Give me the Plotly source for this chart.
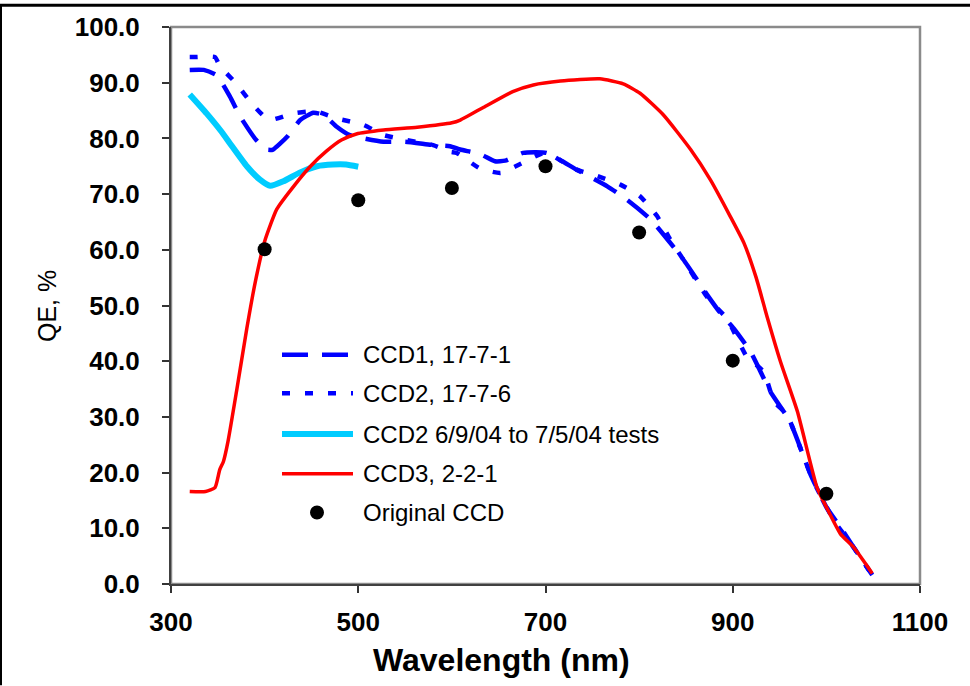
import plotly.graph_objects as go

# ---- data: quantum efficiency (%) versus wavelength (nm) ----
ccd1_wl = [320, 335, 349, 363, 374, 391, 402, 409, 424, 438, 452, 463, 477, 491, 527, 550, 580,
           598, 609, 630, 646, 657, 676, 701, 733, 766, 787, 812, 847, 874, 887, 901, 919, 940,
           961, 983, 1000, 1015, 1029, 1049]
ccd1_qe = [92.3, 92.3, 91.3, 87.5, 83.9, 79.7, 78.0, 78.0, 80.3, 83.3, 84.6, 84.2, 82.1, 80.6, 79.4,
           79.4, 78.8, 78.6, 78.0, 77.2, 75.9, 76.0, 77.4, 77.4, 74.4, 71.4, 69.0, 65.5, 58.3, 51.6,
           48.6, 45.9, 41.7, 34.6, 29.2, 19.7, 13.8, 10.2, 6.6, 1.6]

ccd2_wl = [320, 326, 347, 352, 370, 386, 402, 409, 431, 445, 456, 477, 506, 527, 552, 580, 598,
           605, 630, 652, 673, 698, 705, 733, 751, 780, 801, 819, 833, 847, 874, 894, 915, 933,
           944, 958, 972, 986, 1008, 1029, 1049]
ccd2_qe = [94.6, 94.6, 94.6, 93.0, 89.8, 86.3, 83.6, 83.4, 84.5, 84.8, 84.8, 83.6, 82.4, 80.6, 79.7,
           78.8, 77.6, 77.4, 74.6, 73.8, 75.4, 77.4, 77.1, 74.4, 73.5, 71.7, 69.6, 66.1, 61.9, 58.3,
           51.2, 47.6, 40.8, 38.1, 32.8, 30.4, 24.5, 18.5, 11.4, 6.6, 1.6]

tests_wl = [320, 338, 354, 363, 381, 395, 406, 420, 438, 456, 473, 487, 500]
tests_qe = [87.9, 84.5, 81.2, 79.1, 75.0, 72.6, 71.5, 72.3, 73.9, 75.0, 75.3, 75.3, 74.9]

ccd3_wl = [320, 337, 347, 352, 356, 361, 370, 381, 390, 400, 413, 431, 449, 466, 482, 498, 527,
           563, 600, 609, 634, 665, 687, 716, 758, 783, 801, 826, 855, 876, 897, 912, 925, 937,
           951, 969, 990, 1000, 1015, 1029, 1049]
ccd3_qe = [16.6, 16.6, 17.3, 20.5, 22.0, 25.7, 34.6, 45.9, 54.2, 61.5, 67.3, 71.4, 75.0, 77.7, 79.7,
           80.8, 81.5, 82.0, 82.8, 83.3, 85.6, 88.4, 89.6, 90.3, 90.7, 89.8, 88.1, 84.2, 78.0, 72.6,
           66.1, 61.2, 55.0, 47.8, 39.9, 31.0, 17.3, 13.8, 9.0, 6.6, 1.9]

orig_wl = [400, 500, 600, 700, 800, 900, 1000]
orig_qe = [60.1, 68.9, 71.1, 75.0, 63.1, 40.1, 16.2]

series_names = ["CCD1, 17-7-1", "CCD2, 17-7-6", "CCD2 6/9/04 to 7/5/04 tests",
                "CCD3, 2-2-1", "Original CCD"]
x_ticks = [300, 500, 700, 900, 1100]
y_ticks = [0, 10, 20, 30, 40, 50, 60, 70, 80, 90, 100]

# ---- page geometry ----
W, H = 970, 686
L, R, T, B = 171, 50, 23, 102
FONT = "Liberation Sans, Arial, sans-serif"


def px(x):
    return (x - L) / (W - L - R)


def py(y):
    return (H - B - y) / (H - T - B)


BLUE = "#0000FF"
CYAN = "#00CCFF"
RED = "#FF0000"

styles = [
    dict(color=BLUE, width=4.5, dash="26px,14px"),
    dict(color=BLUE, width=4.5, dash="8px,15px"),
    dict(color=CYAN, width=6),
    dict(color=RED, width=3.5),
]

fig = go.Figure()
for name, wl, qe, st in zip(series_names[:4],
                            [ccd1_wl, ccd2_wl, tests_wl, ccd3_wl],
                            [ccd1_qe, ccd2_qe, tests_qe, ccd3_qe], styles):
    fig.add_trace(go.Scatter(x=wl, y=qe, mode="lines", name=name, showlegend=False,
                             line=dict(shape="spline", smoothing=0.5, **st)))

fig.add_trace(go.Scatter(x=orig_wl, y=orig_qe, mode="markers", name=series_names[4],
                         showlegend=False, marker=dict(color="black", size=14)))

shapes = []
# plot frame: light grey top/right
shapes.append(dict(type="rect", xref="paper", yref="paper", x0=0, x1=1, y0=0, y1=1,
                   line=dict(color="#8a8a8a", width=2.5), layer="below"))
# outer black edge along top and left
shapes.append(dict(type="line", xref="paper", yref="paper", x0=px(0), x1=px(W),
                   y0=py(1), y1=py(1), line=dict(color="black", width=3)))
shapes.append(dict(type="line", xref="paper", yref="paper", x0=px(1), x1=px(1),
                   y0=py(0), y1=py(H), line=dict(color="black", width=2)))

# key
row_y = [353, 392, 433, 473, 512]
annotations = []
for i, st in enumerate(styles):
    shapes.append(dict(type="line", xref="paper", yref="paper",
                       x0=px(282), x1=px(353), y0=py(row_y[i]), y1=py(row_y[i]),
                       line=st))
shapes.append(dict(type="circle", xref="paper", yref="paper",
                   x0=px(310), x1=px(324), y0=py(row_y[4] - 7), y1=py(row_y[4] + 7),
                   fillcolor="black", line=dict(color="black", width=0)))
for i, name in enumerate(series_names):
    annotations.append(dict(text=name, xref="paper", yref="paper", x=px(361), y=py(row_y[i]),
                            xanchor="left", yanchor="middle", showarrow=False,
                            font=dict(family=FONT, size=24, color="black")))

# axis titles
annotations.append(dict(text="<b>Wavelength (nm)</b>", xref="paper", yref="paper",
                        x=px(501), y=py(661), xanchor="center", yanchor="middle",
                        showarrow=False, font=dict(family=FONT, size=32, color="black")))
annotations.append(dict(text="QE, %", xref="paper", yref="paper", textangle=-90,
                        x=px(47), y=py(304), xanchor="center", yanchor="middle",
                        showarrow=False, font=dict(family=FONT, size=25, color="black")))

fig.update_layout(
    width=W, height=H,
    margin=dict(l=L, r=R, t=T, b=B),
    paper_bgcolor="white", plot_bgcolor="white",
    showlegend=False,
    shapes=shapes, annotations=annotations,
    xaxis=dict(range=[300, 1100], tickvals=x_ticks, ticktext=[str(v) for v in x_ticks],
               showgrid=False, zeroline=False, showline=True, linecolor="#404040", linewidth=2,
               ticks="outside", ticklen=7, tickwidth=1.5, tickcolor="#333333",
               ticklabelstandoff=7,
               tickfont=dict(family=FONT, size=26, color="black", weight="bold")),
    yaxis=dict(range=[0, 100], tickvals=y_ticks, ticktext=[f"{v:.1f}" for v in y_ticks],
               showgrid=False, zeroline=False, showline=True, linecolor="#404040", linewidth=2,
               ticks="outside", ticklen=7, tickwidth=1.5, tickcolor="#333333",
               ticklabelstandoff=17,
               tickfont=dict(family=FONT, size=26, color="black", weight="bold")),
)

fig.write_html("out.html")
